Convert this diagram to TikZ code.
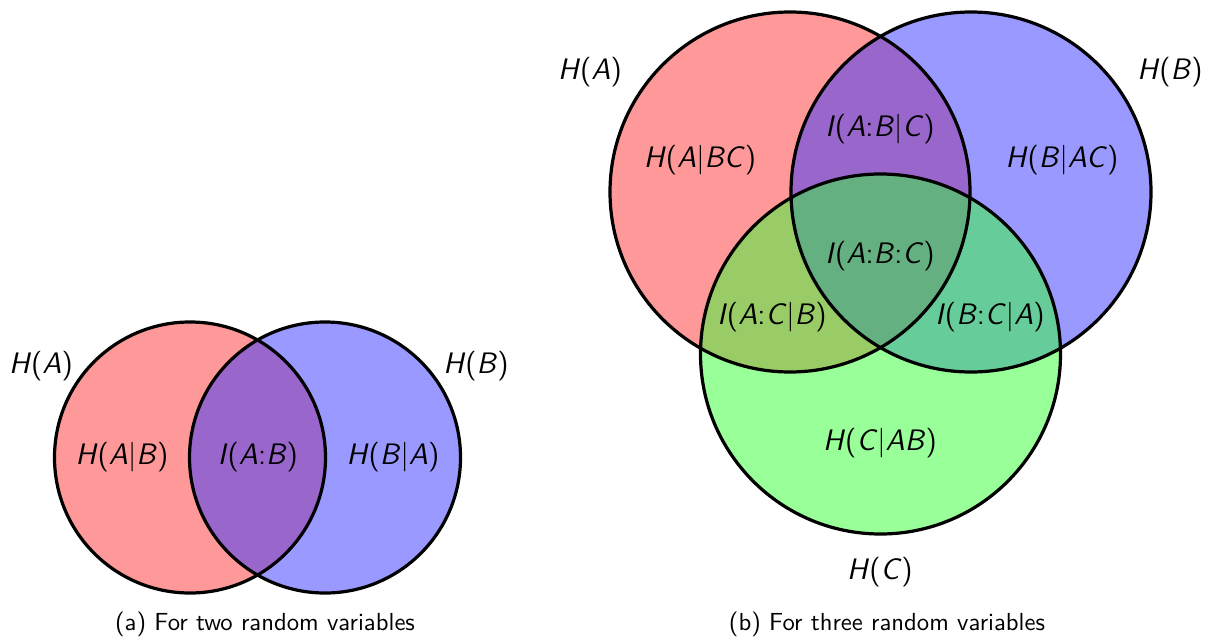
\documentclass[tikz,border=0pt]{standalone}
\usepackage{xcolor}
\definecolor{cA}{RGB}{255,153,153}
\definecolor{cB}{RGB}{153,153,255}
\definecolor{cC}{RGB}{153,255,153}
\definecolor{cAB}{RGB}{153,102,204}
\definecolor{cAC}{RGB}{153,204,102}
\definecolor{cBC}{RGB}{102,204,153}
\definecolor{cABC}{RGB}{100,176,128}
\newcommand{\mi}[1]{\textit{#1}}
\begin{document}
\begin{tikzpicture}[x=0.405pt,y=-0.405pt,
  lbl/.style={font=\sffamily\large, inner sep=0pt},
  captext/.style={font=\sffamily\normalsize, inner sep=0pt},
  ring/.style={draw=black, line width=1.3pt}]
\useasboundingbox (0,0) rectangle (1217,640);
% ---------- (a) two variables ----------
\coordinate (a1) at (190,457.5);
\coordinate (b1) at (325,457.5);
\def\ra{54.88pt}
\fill[cA] (a1) circle[radius=\ra];
\fill[cB] (b1) circle[radius=\ra];
\begin{scope}
  \clip (a1) circle[radius=\ra];
  \fill[cAB] (b1) circle[radius=\ra];
\end{scope}
\draw[ring] (a1) circle[radius=\ra];
\draw[ring] (b1) circle[radius=\ra];
\node[lbl] (ha1) at (41,366) {\mi{H}(\mi{A})};
\node[lbl] (hb1) at (476,366) {\mi{H}(\mi{B})};
\node[lbl] (hab1) at (122,457) {\mi{H}(\mi{A}|\mi{B})};
\node[lbl] (iab1) at (258,457) {\mi{I}(\mi{A}:\mi{B})};
\node[lbl] (hba1) at (393,457) {\mi{H}(\mi{B}|\mi{A})};
\node[captext] (capa) at (265,624) {(a) For two random variables};
% ---------- (b) three variables ----------
\coordinate (a2) at (790,192);
\coordinate (b2) at (971,192);
\coordinate (c2) at (880.5,354);
\def\rb{72.9pt}
\fill[cA] (a2) circle[radius=\rb];
\fill[cB] (b2) circle[radius=\rb];
\fill[cC] (c2) circle[radius=\rb];
\begin{scope}
  \clip (a2) circle[radius=\rb];
  \fill[cAB] (b2) circle[radius=\rb];
  \fill[cAC] (c2) circle[radius=\rb];
\end{scope}
\begin{scope}
  \clip (b2) circle[radius=\rb];
  \fill[cBC] (c2) circle[radius=\rb];
\end{scope}
\begin{scope}
  \clip (a2) circle[radius=\rb];
  \clip (b2) circle[radius=\rb];
  \fill[cABC] (c2) circle[radius=\rb];
\end{scope}
\draw[ring] (a2) circle[radius=\rb];
\draw[ring] (b2) circle[radius=\rb];
\draw[ring] (c2) circle[radius=\rb];
\node[lbl] (ha2) at (590,72) {\mi{H}(\mi{A})};
\node[lbl] (hb2) at (1170,72) {\mi{H}(\mi{B})};
\node[lbl] (hc2) at (880,572) {\mi{H}(\mi{C})};
\node[lbl] (habc) at (700,160) {\mi{H}(\mi{A}|\mi{BC})};
\node[lbl] (hbac) at (1062,160) {\mi{H}(\mi{B}|\mi{AC})};
\node[lbl] (iabc) at (880,129) {\mi{I}(\mi{A}:\mi{B}|\mi{C})};
\node[lbl] (iabcc) at (880,256) {\mi{I}(\mi{A}:\mi{B}:\mi{C})};
\node[lbl] (iacb) at (772,317) {\mi{I}(\mi{A}:\mi{C}|\mi{B})};
\node[lbl] (ibca) at (990,317) {\mi{I}(\mi{B}:\mi{C}|\mi{A})};
\node[lbl] (hcab) at (880,443) {\mi{H}(\mi{C}|\mi{AB})};
\node[captext] (capb) at (887,624) {(b) For three random variables};
\end{tikzpicture}
\end{document}
